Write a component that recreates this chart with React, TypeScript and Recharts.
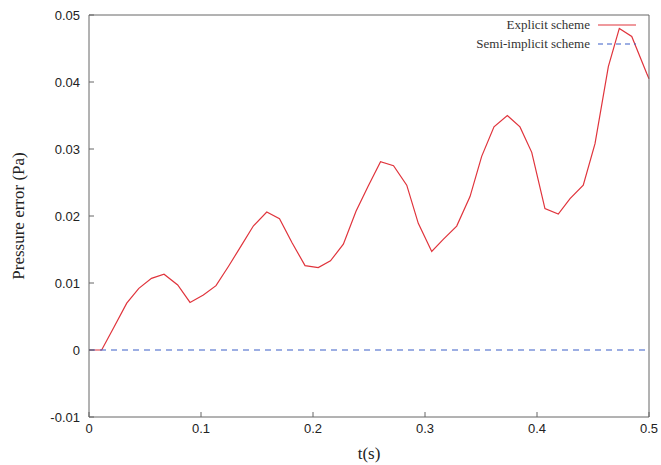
import { LineChart, Line, XAxis, YAxis } from 'recharts';

const tValues = [
  0, 0.0113, 0.0226, 0.0337, 0.0445, 0.0558, 0.067, 0.0792, 0.0902, 0.1021,
  0.1134, 0.1246, 0.1357, 0.1467, 0.1587, 0.1701, 0.1813, 0.1929, 0.2047, 0.2156,
  0.2271, 0.2384, 0.2491, 0.2603, 0.2719, 0.2837, 0.294, 0.306, 0.3163, 0.3283,
  0.3402, 0.3506, 0.3616, 0.3735, 0.3848, 0.3953, 0.4071, 0.419, 0.4295, 0.4413,
  0.4518, 0.4637, 0.4735, 0.4846, 0.4979, 0.5,
];
const explicitErr = [
  0, 0, 0.0035, 0.007, 0.0092, 0.0107, 0.0113, 0.0097, 0.0071, 0.0082,
  0.0096, 0.0125, 0.0155, 0.0185, 0.0206, 0.0196, 0.016, 0.0126, 0.0123, 0.0133,
  0.0158, 0.0207, 0.0244, 0.0281, 0.0275, 0.0246, 0.0189, 0.0147, 0.0165, 0.0185,
  0.0229, 0.0289, 0.0333, 0.035, 0.0333, 0.0295, 0.0211, 0.0203, 0.0226, 0.0246,
  0.0308, 0.0423, 0.048, 0.0468, 0.0413, 0.0405,
];
const semiT = [0, 0.5];
const semiErr = [0, 0];

// axis ranges; ticks every 0.1 s and every 0.01 Pa
const xDomain = [0, 0.5];
const yDomain = [-0.01, 0.05];

const explicitData = tValues.map((t, i) => ({ t, err: explicitErr[i] }));
const semiData = semiT.map((t, i) => ({ t, err: semiErr[i] }));

const RED = '#e0343c';
const BLUE = '#3b5fc8';
const FRAME = '#666';
const tickFont = { fontFamily: "'Liberation Sans', Arial, sans-serif", fontSize: 13, fill: '#222' };
const serif = "'Liberation Serif', 'Times New Roman', serif";

// gnuplot-style key, drawn over the top right corner of the plot
function Key() {
  const rows = [
    { label: 'Explicit scheme', color: RED, dash: undefined },
    { label: 'Semi-implicit scheme', color: BLUE, dash: '5 4' },
  ];
  return (
    <div style={{ position: 'absolute', top: 15, right: 25, fontFamily: serif, fontSize: 13, color: '#333' }}>
      {rows.map((r) => (
        <div key={r.label} style={{ display: 'flex', alignItems: 'center', justifyContent: 'flex-end', height: 19 }}>
          <span style={{ marginRight: 8 }}>{r.label}</span>
          <svg width={38} height={4}>
            <line x1={0} y1={2} x2={38} y2={2} stroke={r.color} strokeWidth={1.2} strokeDasharray={r.dash} />
          </svg>
        </div>
      ))}
    </div>
  );
}

export default function App() {
  return (
    <div style={{ position: 'absolute', left: 0, top: 0, width: 661, height: 465, background: '#fff' }}>
      <LineChart width={661} height={465} data={explicitData} margin={{ top: 10, right: 7, left: 29, bottom: 18 }}>
        <XAxis
          type="number"
          dataKey="t"
          domain={xDomain}
          tickCount={6}
          height={30}
          stroke={FRAME}
          tickSize={-5}
          tickMargin={12}
          tick={tickFont}
          label={{ value: 't(s)', position: 'bottom', offset: 0, fontFamily: serif, fontSize: 17, fill: '#222' }}
        />
        <XAxis xAxisId="top" orientation="top" type="number" dataKey="t" domain={xDomain} tickCount={6} height={5} stroke={FRAME} tickSize={-5} tick={false} />
        <YAxis
          type="number"
          domain={yDomain}
          tickCount={7}
          width={60}
          stroke={FRAME}
          tickSize={-5}
          tickMargin={14}
          tick={tickFont}
          label={{ value: 'Pressure error (Pa)', angle: -90, position: 'left', offset: 11, fontFamily: serif, fontSize: 17, fill: '#222', style: { textAnchor: 'middle' } }}
        />
        <YAxis yAxisId="r" orientation="right" type="number" domain={yDomain} tickCount={7} width={5} stroke={FRAME} tickSize={-5} tick={false} />
        <Line
          dataKey="err"
          name="Explicit scheme"
          stroke={RED}
          strokeWidth={1.2}
          dot={false}
          isAnimationActive={false}
        />
        <Line
          data={semiData}
          dataKey="err"
          name="Semi-implicit scheme"
          stroke={BLUE}
          strokeWidth={1.2}
          strokeDasharray="6 5"
          dot={false}
          isAnimationActive={false}
        />
      </LineChart>
      <Key />
    </div>
  );
}
